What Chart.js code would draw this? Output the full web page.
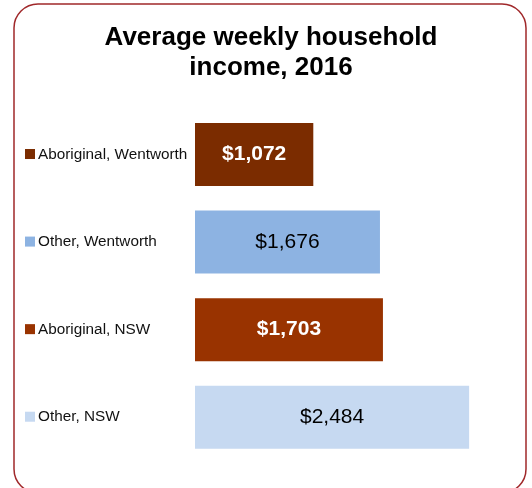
<!DOCTYPE html>
<html>
<head>
<meta charset="utf-8">
<script src="https://cdn.jsdelivr.net/npm/chart.js@4"></script>
<style>
html,body{margin:0;padding:0;background:#fff;}
#wrap{width:532px;height:488px;}
</style>
</head>
<body>
<div id="wrap"><canvas id="c" width="532" height="488"></canvas></div>
<script>
const categories = ['Aboriginal, Wentworth', 'Other, Wentworth', 'Aboriginal, NSW', 'Other, NSW'];
const incomes = [1072, 1676, 1703, 2484];
const barColors = ['#7B2C00', '#8DB3E2', '#993300', '#C6D9F1'];
const labelColors = ['#ffffff', '#000000', '#ffffff', '#000000'];
const labelWeights = ['bold', 'normal', 'bold', 'normal'];
const titleLines = ['Average weekly household', 'income, 2016'];

const FONT = '"Liberation Sans", Arial, Helvetica, sans-serif';

const framePlugin = {
  id: 'frame',
  beforeDraw(chart) {
    const ctx = chart.ctx;
    ctx.save();
    ctx.fillStyle = '#ffffff';
    ctx.fillRect(0, 0, chart.width, chart.height);
    const x0 = 14, y0 = 4, x1 = 526, y1 = 493, r = 24;
    ctx.beginPath();
    ctx.moveTo(x0 + r, y0);
    ctx.lineTo(x1 - r, y0);
    ctx.arcTo(x1, y0, x1, y0 + r, r);
    ctx.lineTo(x1, y1 - r);
    ctx.arcTo(x1, y1, x1 - r, y1, r);
    ctx.lineTo(x0 + r, y1);
    ctx.arcTo(x0, y1, x0, y1 - r, r);
    ctx.lineTo(x0, y0 + r);
    ctx.arcTo(x0, y0, x0 + r, y0, r);
    ctx.closePath();
    ctx.strokeStyle = '#A0282A';
    ctx.lineWidth = 1.5;
    ctx.stroke();
    ctx.restore();
  },
  afterDraw(chart) {
    const ctx = chart.ctx;
    const yScale = chart.scales.y;
    ctx.save();
    yScale.ticks.forEach((t, i) => {
      const y = yScale.getPixelForTick(i);
      ctx.fillStyle = barColors[i];
      ctx.fillRect(25, y - 5.5, 10, 10);
    });
    const meta = chart.getDatasetMeta(0);
    meta.data.forEach((bar, i) => {
      const p = bar.getProps(['x', 'y', 'base'], true);
      const cx = (p.x + p.base) / 2;
      ctx.font = labelWeights[i] + ' 21px ' + FONT;
      ctx.fillStyle = labelColors[i];
      ctx.textAlign = 'center';
      ctx.textBaseline = 'middle';
      ctx.fillText('$' + incomes[i].toLocaleString('en-US'), cx, p.y);
    });
    ctx.restore();
  }
};

new Chart(document.getElementById('c'), {
  type: 'bar',
  data: {
    labels: categories,
    datasets: [{
      data: incomes,
      backgroundColor: barColors,
      borderWidth: 0,
      categoryPercentage: 1,
      barPercentage: 0.72
    }]
  },
  options: {
    indexAxis: 'y',
    responsive: false,
    devicePixelRatio: 1,
    animation: false,
    layout: { padding: { left: 38, right: 28, top: 0, bottom: 27 } },
    plugins: {
      legend: { display: false },
      tooltip: { enabled: false },
      title: {
        display: true,
        text: titleLines,
        color: '#000000',
        font: { family: FONT, size: 26, weight: 'bold', lineHeight: 1.142 },
        padding: { top: 23.45, bottom: 27.9 }
      }
    },
    scales: {
      x: { display: false, min: 0, max: 2800 },
      y: {
        grid: { display: false, drawTicks: false },
        border: { display: false },
        ticks: {
          crossAlign: 'far',
          padding: 0,
          color: '#111111',
          font: { family: FONT, size: 15.3 }
        },
        afterFit(scale) { scale.width = 157; }
      }
    }
  },
  plugins: [framePlugin]
});
</script>
</body>
</html>
